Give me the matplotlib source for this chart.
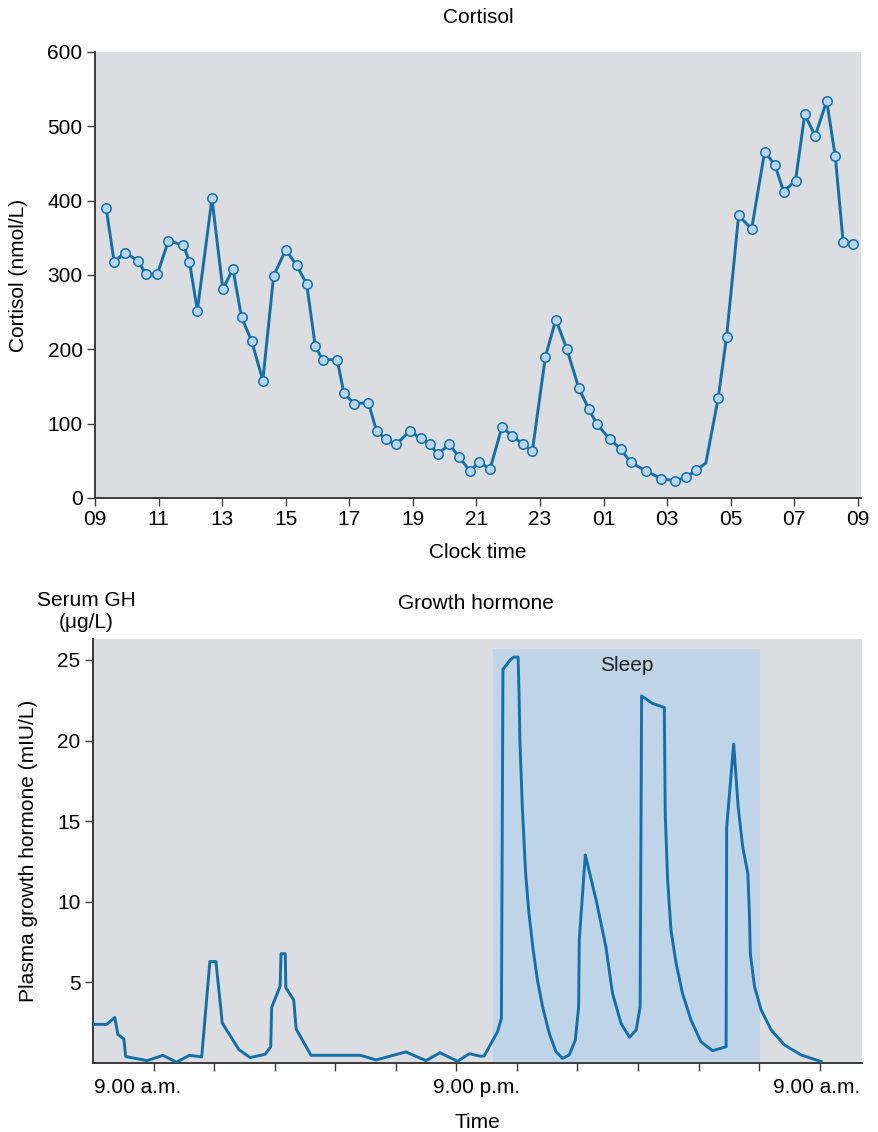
import matplotlib
matplotlib.use('Agg')
import matplotlib.pyplot as plt
from matplotlib.patches import Rectangle
from matplotlib.transforms import blended_transform_factory

plt.rcParams['font.family'] = ['Liberation Sans', 'DejaVu Sans']
plt.rcParams['xtick.direction'] = 'out'
plt.rcParams['ytick.direction'] = 'out'

# cortisol: hours after 09:00, nmol/L
cort_h = [0.35, 0.6, 0.94, 1.36, 1.6, 1.96, 2.31, 2.78, 2.97, 3.22, 3.68, 4.02, 4.34,
          4.61, 4.93, 5.28, 5.62, 6.0, 6.34, 6.66, 6.93, 7.16, 7.62, 7.83, 8.15, 8.6,
          8.86, 9.15, 9.47, 9.91, 10.25, 10.54, 10.78, 11.15, 11.46, 11.8, 12.09, 12.43,
          12.8, 13.12, 13.47, 13.76, 14.17, 14.5, 14.84, 15.22, 15.53, 15.78, 16.2,
          16.54, 16.85, 17.35, 17.81, 18.25, 18.59, 18.9, 19.22, 19.61, 19.87, 20.25,
          20.66, 21.07, 21.39, 21.67, 22.04, 22.33, 22.66, 23.02, 23.29, 23.54, 23.85]
cort_v = [390, 318, 330, 319, 301, 301, 346, 340, 318, 252, 403, 281, 308,
          243, 211, 158, 299, 334, 313, 288, 204, 186, 186, 141, 127, 128,
          90, 79, 72, 90, 80, 72, 59, 72, 55, 36, 48, 39,
          95, 84, 72, 63, 190, 240, 201, 148, 120, 100, 79,
          66, 48, 36, 26, 23, 28, 37, 47, 135, 216, 380,
          362, 466, 448, 412, 427, 516, 487, 534, 460, 344, 341]
no_marker = [56]
cort_ticks = list(range(0, 25, 2))
cort_labels = ['09', '11', '13', '15', '17', '19', '21', '23', '01', '03', '05', '07', '09']

# growth hormone: x in 2-hour tick units from 9.00 a.m., mIU/L
gh_h = [-1.97, -1.55, -1.28, -1.18, -0.98, -0.92, -0.21, 0.31, 0.76, 1.18, 1.59, 1.86,
        2.06, 2.27, 2.82, 3.19, 3.68, 3.87, 3.90, 4.18, 4.21, 4.35, 4.37, 4.63, 4.71,
        5.2, 6.84, 7.35, 8.33, 9.0, 9.46, 10.04, 10.43, 10.81, 10.92, 11.36, 11.49,
        11.54, 11.67, 11.80, 11.91, 12.04, 12.07, 12.10, 12.18, 12.29, 12.40, 12.54,
        12.68, 12.85, 13.07, 13.29, 13.51, 13.73, 13.93, 14.04, 14.06, 14.26,
        14.62, 14.94, 15.16, 15.44, 15.72, 15.94, 16.07, 16.12, 16.48,
        16.87, 16.90, 16.98, 17.09, 17.26, 17.47, 17.75, 18.08, 18.46, 18.91, 18.93,
        19.16, 19.31, 19.46, 19.63, 19.68, 19.71, 19.85, 20.07, 20.4, 20.84, 21.39, 22.05]
gh_v = [2.38, 2.38, 2.81, 1.76, 1.47, 0.38, 0.13, 0.46, 0.03, 0.46, 0.36, 6.28,
        6.28, 2.46, 0.81, 0.32, 0.52, 0.99, 3.43, 4.75, 6.77, 6.77, 4.65, 3.89, 2.09,
        0.46, 0.46, 0.17, 0.67, 0.13, 0.62, 0.09, 0.56, 0.40, 0.42, 1.92, 2.75,
        24.42, 24.73, 25.04, 25.18, 25.18, 23.1, 19.98, 15.86, 11.73, 9.25, 6.98,
        5.12, 3.47, 1.82, 0.69, 0.27, 0.48, 1.41, 3.47, 7.6, 12.9,
        10.08, 7.19, 4.3, 2.44, 1.58, 2.03, 3.47, 22.77, 22.3,
        22.05, 15.44, 11.32, 8.22, 6.16, 4.3, 2.65, 1.3, 0.75, 0.99, 14.62,
        19.78, 15.86, 13.38, 11.73, 9.25, 6.78, 4.71, 3.27, 2.03, 1.1, 0.48, 0.07]
gh_ticks = list(range(0, 23, 2))
gh_label_pos = [-0.54, 10.68, 21.9]
gh_labels = ['9.00 a.m.', '9.00 p.m.', '9.00 a.m.']
sleep_start, sleep_end, sleep_top = 11.2, 20.03, 25.7

line_c = '#1170aa'
face_c = '#b9d5ef'
bg_c = '#dcdde0'
spine_c = '#3a3a3a'
fs = 15

fig = plt.figure(figsize=(8.79, 11.32), dpi=100)

def style(ax):
    ax.set_facecolor(bg_c)
    for s in ['top', 'right']:
        ax.spines[s].set_visible(False)
    for s in ['left', 'bottom']:
        ax.spines[s].set_color(spine_c)
        ax.spines[s].set_linewidth(1.4)
    ax.tick_params(length=6, width=1, color=spine_c, labelsize=fs, pad=3)

# top panel
ax1 = fig.add_axes([0.1081, 0.5601, 0.8714, 0.394])
style(ax1)
marks = [i for i in range(len(cort_h)) if i not in no_marker]
ax1.plot(cort_h, cort_v, color=line_c, lw=2.1, marker='o', ms=6.8,
         mfc=face_c, mec=line_c, mew=1.1, markevery=marks)
ax1.set_xlim(0, 24.1)
ax1.set_ylim(0, 600)
ax1.set_xticks(cort_ticks)
ax1.set_xticklabels(cort_labels)
ax1.set_yticks([0, 100, 200, 300, 400, 500, 600])
fig.text(0.5438, 0.9841, 'Cortisol', fontsize=fs, ha='center', va='center')
fig.text(0.5438, 0.5115, 'Clock time', fontsize=fs, ha='center', va='center')
fig.text(0.0205, 0.757, 'Cortisol (nmol/L)', fontsize=fs, ha='center',
         va='center', rotation=90)

# bottom panel
ax2 = fig.add_axes([0.1058, 0.0612, 0.8749, 0.3743])
style(ax2)
ax2.add_patch(Rectangle((sleep_start, 0), sleep_end - sleep_start, sleep_top,
                        facecolor='#c0d4e8', edgecolor='none', zorder=1))
ax2.plot(gh_h, gh_v, color=line_c, lw=2.1, zorder=3)
ax2.text(15.64, 24.63, 'Sleep', fontsize=fs, ha='center', va='center',
         color='#222222')
ax2.set_xlim(-2, 23.4)
ax2.set_ylim(0, 26.3)
ax2.set_xticks(gh_ticks)
ax2.set_xticklabels([])
ax2.set_yticks([5, 10, 15, 20, 25])
trans = blended_transform_factory(ax2.transData, ax2.transAxes)
for xp, lab in zip(gh_label_pos, gh_labels):
    ax2.text(xp, -0.0596, lab, transform=trans, fontsize=fs, ha='center',
             va='center')
fig.text(0.5427, 0.0088, 'Time', fontsize=fs, ha='center', va='center')
fig.text(0.5415, 0.4673, 'Growth hormone', fontsize=fs, ha='center', va='center')
fig.text(0.0319, 0.2482, 'Plasma growth hormone (mIU/L)', fontsize=fs,
         ha='center', va='center', rotation=90)
fig.text(0.0978, 0.4598, 'Serum GH\n(\u03bcg/L)', fontsize=fs, ha='center',
         va='center', linespacing=1.2)

fig.savefig('out.png', dpi=100)
